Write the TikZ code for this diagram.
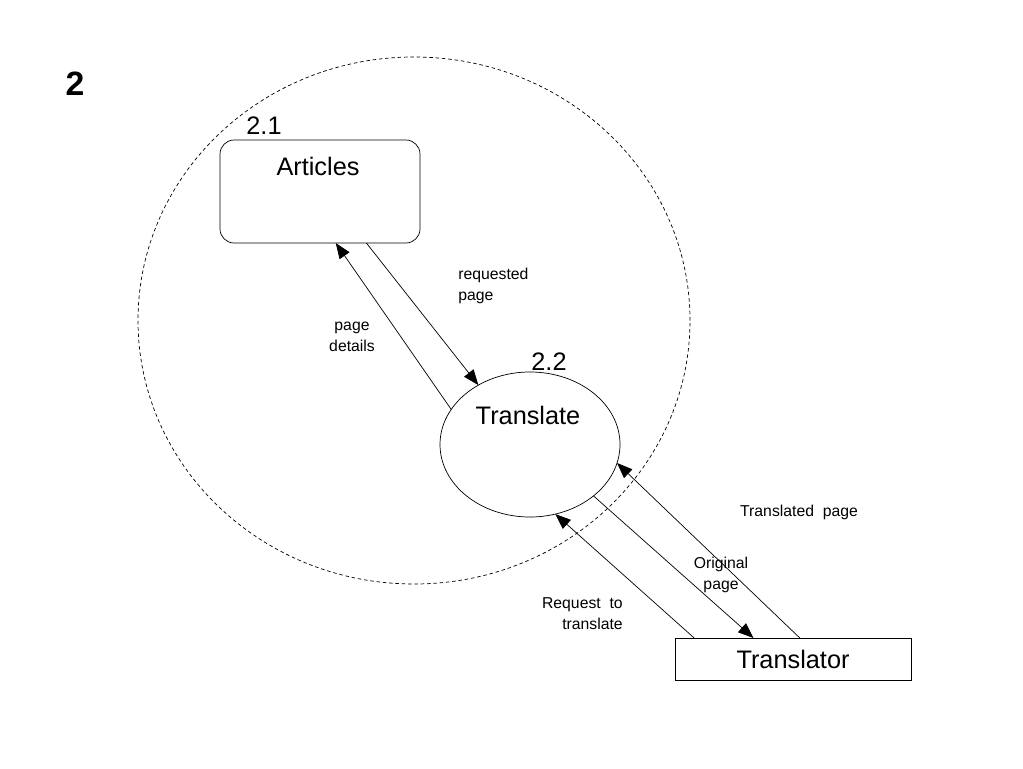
\documentclass[tikz,border=0pt]{standalone}
\usepackage{fontspec}
\setmainfont{Liberation Sans}
\usetikzlibrary{arrows.meta, shapes.geometric, positioning}

\begin{document}
\begin{tikzpicture}[x=0.025cm, y=-0.025cm, >={Triangle[length=11pt,width=8.5pt]}, line width=0.5pt,
	big/.style={font=\fontsize{18}{20}\selectfont},
	lbl/.style={font=\fontsize{11.2}{15}\selectfont, inner sep=0pt},
	flow/.style={->}]
		\useasboundingbox (0,0) rectangle (1023,768);
		\node[font=\fontsize{24}{26}\selectfont\bfseries] (num) at (75,84) {2};
		\node[draw, dash pattern=on 2.5pt off 2pt, ellipse, minimum width=552*0.025cm, minimum height=527*0.025cm, inner sep=0pt, outer sep=0pt] (bound) at (414,320.5) {};
		
		\node[draw, rounded corners=10pt, minimum width=200*0.025cm, minimum height=103*0.025cm, inner sep=0pt, outer sep=0pt] (art) at (320,191.5) {};
		\node[big] (artname) at (318,166) {Articles}; \node[big] (artnum) at (264,126) {2.1};
		
		\node[draw, ellipse, minimum width=180*0.025cm, minimum height=145*0.025cm, inner sep=0pt, outer sep=0pt] (trans) at (530,444.5) {};
		\node[big] (transname) at (528,415) {Translate}; \node[big] (transnum) at (549,362) {2.2};
		
		\node[draw, minimum width=236*0.025cm, minimum height=42*0.025cm, inner sep=0pt, outer sep=0pt, big] (tor) at (793,659) {Translator};
		
		\draw[flow] (trans.156.6) -- (art.-73.8); \node[lbl, align=center] (pd) at (352,337) {page\\details};
		\draw[flow] (art.-48.9) -- (trans.131.9); \node[lbl, align=left, anchor=west] (rp) at (458,285.5) {requested\\page};
		\draw[flow] (tor.168.6) -- (trans.-70); \node[lbl, align=right, anchor=east] (rt) at (623,614) {Request~ to\\translate};
		\draw[flow] (trans.-39.2) -- (tor.152.9); \node[lbl, align=center] (op) at (721,575) {Original\\page};
		\draw[flow] (tor.72.3) -- (trans.-12); \node[lbl] (tp) at (799,512) {Translated~ page};
	\end{tikzpicture}
\end{document}
